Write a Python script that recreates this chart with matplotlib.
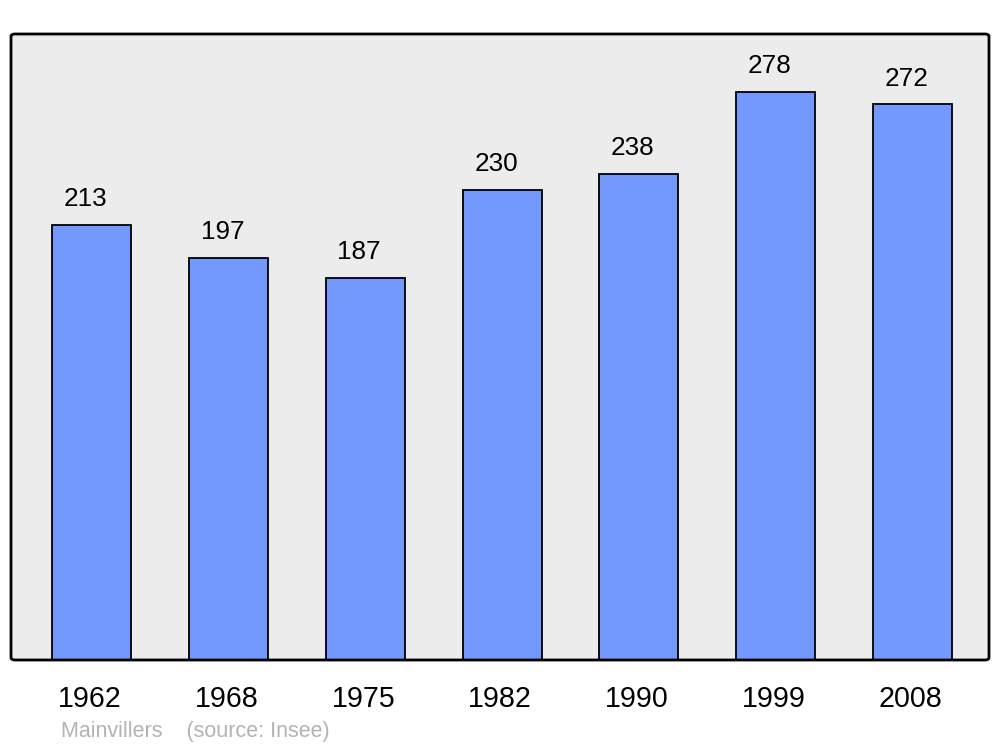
import matplotlib.pyplot as plt
from matplotlib.patches import FancyBboxPatch

plt.rcParams['font.family'] = ['Liberation Sans', 'DejaVu Sans']

years = ["1962", "1968", "1975", "1982", "1990", "1999", "2008"]
population = [213, 197, 187, 230, 238, 278, 272]

fig = plt.figure(figsize=(10, 7.47), dpi=100)
ax = fig.add_axes([0.011, 87 / 747, 0.978, 626 / 747])

x = list(range(len(years)))
ax.bar(x, population, width=0.578, color="#7399ff", edgecolor="black",
       linewidth=1.3, zorder=2)

for xi, v in zip(x, population):
    ax.annotate(str(v), (xi - 0.045, v), xytext=(0, 13.5), textcoords="offset points",
                ha="center", va="baseline", fontsize=18.8, zorder=4)

ax.set_xlim(-0.592, 6.56)
ax.set_ylim(0, 306.4)

# frame with rounded corners
ax.patch.set_visible(False)
for s in ax.spines.values():
    s.set_visible(False)
ax.add_patch(FancyBboxPatch((0, 0), 1, 1, boxstyle="round,pad=0,rounding_size=0.004",
                            transform=ax.transAxes, facecolor="#ececec",
                            edgecolor="none", zorder=0, clip_on=False))
ax.add_patch(FancyBboxPatch((0, 0), 1, 1, boxstyle="round,pad=0,rounding_size=0.004",
                            transform=ax.transAxes, facecolor="none",
                            edgecolor="black", linewidth=2, zorder=3, clip_on=False))

ax.set_xticks([xi - 0.015 for xi in x])
ax.set_xticklabels(years, fontsize=20.6)
ax.tick_params(axis="x", length=0, pad=18)
ax.set_yticks([])

fig.text(0.061, 1 - 737 / 747, "Mainvillers    (source: Insee)", fontsize=15.5,
         color="#b3b3b3", va="baseline")

fig.savefig("out.png", dpi=100)
